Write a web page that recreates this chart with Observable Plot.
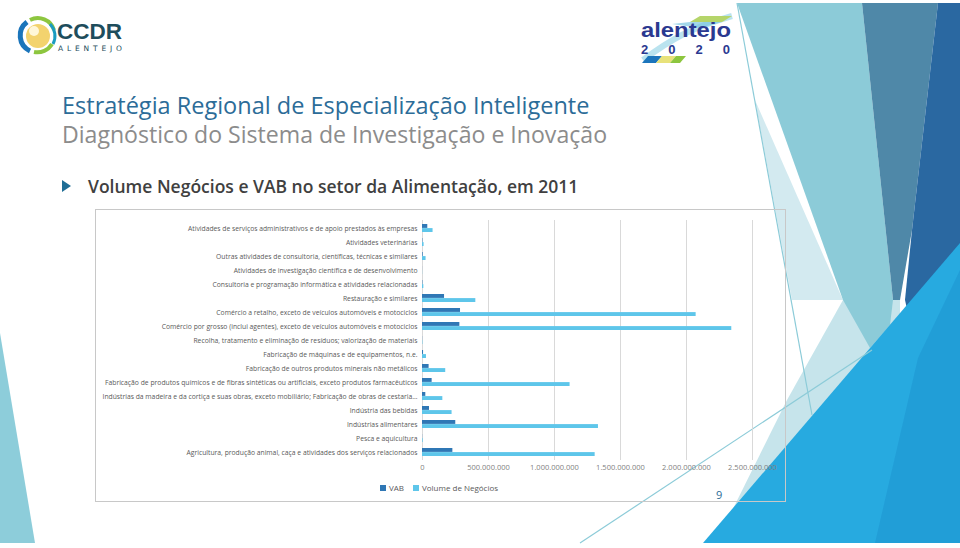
<!DOCTYPE html>
<html><head><meta charset="utf-8">
<script src="https://cdn.jsdelivr.net/npm/d3@7"></script>
<script src="https://cdn.jsdelivr.net/npm/@observablehq/plot@0.6"></script>
<style>
body{margin:0;width:960px;height:548px;position:relative;overflow:hidden;background:#fff;font-family:"Open Sans",sans-serif}
#deco{position:absolute;left:0;top:0}
.t{position:absolute;left:62px;white-space:nowrap;font-family:"Open Sans",sans-serif;line-height:1}
#t1{top:94px;color:#2C6C98;font-size:23.5px}
#t2{top:123px;color:#8C8C8C;font-size:23.1px}
#bullet{position:absolute;left:62px;top:178px;white-space:nowrap;font-family:"Open Sans",sans-serif;font-size:17.5px;font-weight:600;color:#404040;line-height:1}
#bullet .tri{display:inline-block;width:0;height:0;border-top:6px solid transparent;border-bottom:6px solid transparent;border-left:9px solid #1F6E96;margin-right:17px;vertical-align:1px}
#box{position:absolute;left:95px;top:209px;width:689px;height:291px;border:1px solid #C8C8C8}
#chart{position:absolute;left:95px;top:209px}
#legend{position:absolute;left:380px;top:482px;font-family:"Open Sans",sans-serif;font-size:8px;color:#595959;white-space:nowrap}
#legend span.sw{display:inline-block;width:6px;height:6px;margin-right:3px;vertical-align:0}
#legend span.it{margin-right:9px}
#page{position:absolute;left:716px;top:487px;font-family:"Open Sans",sans-serif;font-size:11px;color:#2C6C98}
</style></head><body>
<svg id="deco" width="960" height="548">
  <polygon points="0,333 0,543 35,543" fill="#8DCDDA"/>
  <polygon points="755,100 792,300 843,300" fill="#D3EAF0"/>
  <polygon points="843,300 787,400 716,543 900,543 900,300" fill="#C6E4EB"/>
  <polygon points="737,3 862,3 893,300 890,325 870,348 843,300" fill="#8CCBD8"/>
  <polygon points="862,3 938,3 912,230 900,300 893,300" fill="#4F88A8"/>
  <polygon points="938,3 960,3 960,250 950,300 918,358 905,300 912,230" fill="#2A68A1"/>
  <polygon points="703,543 960,543 960,243" fill="#27AAE0"/>
  <polygon points="918,358 960,270 960,543 875,543" fill="#1D93CF" opacity="0.55"/>
  <line x1="737" y1="3" x2="812" y2="415" stroke="#8CCBD8" stroke-width="1.2"/>
  <line x1="580" y1="543" x2="872" y2="350" stroke="#8CCBD8" stroke-width="1.2"/>
  <!-- CCDR logo -->
  <circle cx="38" cy="36" r="12" fill="#F3D36E"/>
  <circle cx="34" cy="31" r="5" fill="#FFF7D8"/>
  <path d="M27,22 A17,17 0 0 0 30,51" stroke="#1B75BB" stroke-width="5" fill="none"/>
  <path d="M30,20 A17,17 0 0 1 54,30" stroke="#8DC63F" stroke-width="4" fill="none"/>
  <path d="M52,44 A17,17 0 0 1 34,52" stroke="#8DC63F" stroke-width="4" fill="none"/>
  <path d="M50,24 A17,17 0 0 1 53,44" stroke="#1B9BBF" stroke-width="3" fill="none"/>
  <text x="57" y="38.5" font-family="Liberation Sans" font-weight="bold" font-size="22" fill="#1E4D5C" textLength="65" lengthAdjust="spacingAndGlyphs">CCDR</text>
  <text x="58" y="51" font-family="DejaVu Sans" font-size="7.5" fill="#1E4D5C" textLength="64" lengthAdjust="spacing">ALENTEJO</text>
  <!-- alentejo 2020 logo -->
  <path d="M643,60 C670,40 690,28 732,16" stroke="#A9DCEB" stroke-width="6" fill="none" opacity="0.8"/>
  <polygon points="690,22 700,16 732,16 722,22" fill="#B5D56A"/>
  <polygon points="672,24 690,22 722,22 700,28" fill="#7CC6E0" opacity="0.7"/>
  <polygon points="642,63 648,56 662,56 656,63" fill="#1C75BC"/>
  <polygon points="656,63 662,56 676,56 670,63" fill="#E8E27A"/>
  <polygon points="670,63 676,56 686,56 680,63" fill="#8DC63F"/>
  <text x="641" y="36.5" font-family="Liberation Sans" font-weight="bold" font-size="21" fill="#2B3990" textLength="90" lengthAdjust="spacingAndGlyphs">alentejo</text>
  <text x="641" y="54" font-family="Liberation Sans" font-weight="bold" font-size="13" fill="#2B3990" textLength="89" lengthAdjust="spacing">2020</text>
</svg>
<div class="t" id="t1">Estratégia Regional de Especialização Inteligente</div>
<div class="t" id="t2">Diagnóstico do Sistema de Investigação e Inovação</div>
<div id="bullet"><span class="tri"></span>Volume Negócios e VAB no setor da Alimentação, em 2011</div>
<div id="box"></div>
<div id="chart"></div>
<div id="legend"><span class="sw" style="background:#2F77B5"></span><span class="it">VAB</span><span class="sw" style="background:#5EC6EA"></span><span>Volume de Negócios</span></div>
<div id="page">9</div>
<script>
const categories = [
  "Atividades de serviços administrativos e de apoio prestados às empresas",
  "Atividades veterinárias",
  "Outras atividades de consultoria, científicas, técnicas e similares",
  "Atividades de investigação científica e de desenvolvimento",
  "Consultoria e programação informática e atividades relacionadas",
  "Restauração e similares",
  "Comércio a retalho, exceto de veículos automóveis e motociclos",
  "Comércio por grosso (inclui agentes), exceto de veículos automóveis e motociclos",
  "Recolha, tratamento e eliminação de resíduos; valorização de materiais",
  "Fabricação de máquinas e de equipamentos, n.e.",
  "Fabricação de outros produtos minerais não metálicos",
  "Fabricação de produtos químicos e de fibras sintéticas ou artificiais, exceto produtos farmacêuticos",
  "Indústrias da madeira e da cortiça e suas obras, exceto mobiliário; Fabricação de obras de cestaria…",
  "Indústria das bebidas",
  "Indústrias alimentares",
  "Pesca e aquicultura",
  "Agricultura, produção animal, caça e atividades dos serviços relacionados"
];
const vab = [40e6, 3e6, 5e6, 0.5e6, 3e6, 167e6, 288e6, 283e6, 1e6, 8e6, 50e6, 73e6, 25e6, 53e6, 252e6, 1e6, 230e6];
const volumeNegocios = [80e6, 12e6, 27e6, 1e6, 10e6, 404e6, 2073e6, 2343e6, 3e6, 30e6, 176e6, 1118e6, 154e6, 224e6, 1333e6, 5e6, 1308e6];
const xTicks = [0, 5e8, 1e9, 1.5e9, 2e9, 2.5e9];
const seriesNames = ["VAB", "Volume de Negócios"];
const seriesColors = ["#2F77B5", "#5EC6EA"];

const rows = categories.map((c, i) => ({category: c, vab: vab[i], volume: volumeNegocios[i]}));
const fmt = d3.formatLocale({decimal: ",", thousands: ".", grouping: [3], currency: ["", ""]}).format(",.0f");

const chart = Plot.plot({
  width: 690,
  height: 268,
  marginLeft: 327,
  marginRight: 33,
  marginTop: 11,
  marginBottom: 17,
  style: {fontFamily: "Open Sans, sans-serif", fontSize: "7.5px", color: "#595959", background: "transparent"},
  x: {domain: [0, 2.5e9], ticks: xTicks, tickFormat: fmt},
  y: {domain: categories, paddingInner: 0.42, paddingOuter: 0.21},
  marks: [
    Plot.gridX(xTicks, {stroke: "#D9D9D9", strokeOpacity: 1, strokeWidth: 1}),
    Plot.barX(rows, {y: "category", x: "vab", fill: seriesColors[0], insetBottom: 4.1, title: d => `${seriesNames[0]}: ${fmt(d.vab)}`}),
    Plot.barX(rows, {y: "category", x: "volume", fill: seriesColors[1], insetTop: 4.1, title: d => `${seriesNames[1]}: ${fmt(d.volume)}`}),
    Plot.axisY({tickSize: 0, tickPadding: 5, label: null, fill: "#595959"}),
    Plot.axisX({ticks: xTicks, tickFormat: fmt, tickSize: 0, tickPadding: 4, label: null, fill: "#7F7F7F"})
  ]
});
document.getElementById("chart").appendChild(chart);

// fit the long category labels to the width they take in the original
const labels = chart.querySelectorAll('g[aria-label="y-axis tick label"] text');
let maxLen = 0;
labels.forEach(t => { maxLen = Math.max(maxLen, t.getComputedTextLength()); });
const factor = 315 / maxLen;
labels.forEach(t => {
  const L = t.getComputedTextLength();
  t.setAttribute("textLength", (L * factor).toFixed(1));
  t.setAttribute("lengthAdjust", "spacingAndGlyphs");
});
</script>
</body></html>
